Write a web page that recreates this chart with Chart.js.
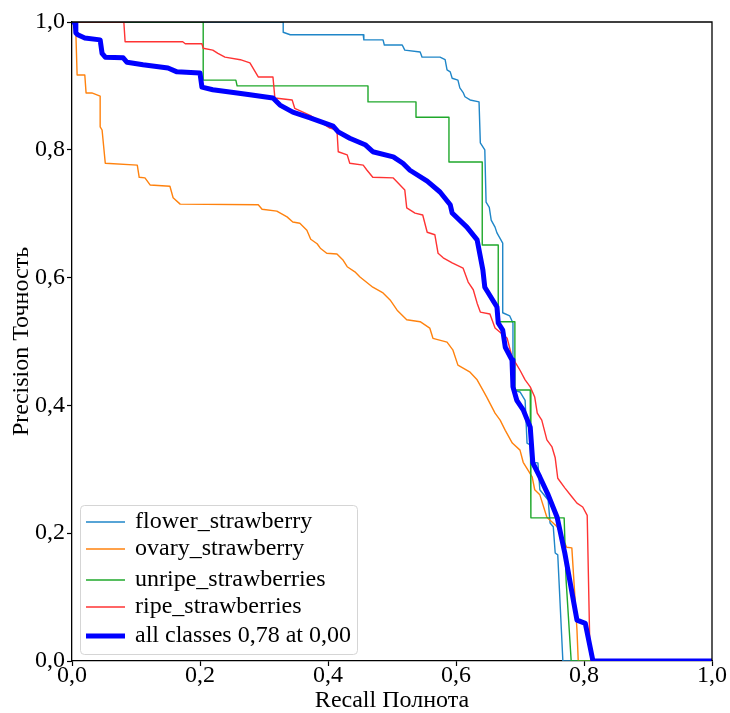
<!DOCTYPE html>
<html>
<head>
<meta charset="utf-8">
<script src="https://cdn.jsdelivr.net/npm/chart.js@4"></script>
<style>
body { margin: 0; background: #fff; }
#wrap { width: 730px; height: 713px; }
</style>
</head>
<body>
<div id="wrap"><canvas id="chart" width="730" height="713"></canvas></div>
<script>
const seriesLabels = ['flower_strawberry', 'ovary_strawberry', 'unripe_strawberries', 'ripe_strawberries', 'all classes 0,78 at 0,00'];
const seriesColors = ['#1f86c8', '#ff820e', '#1fa82b', '#ff3333', '#0000ff'];
const tickValues = [0, 0.2, 0.4, 0.6, 0.8, 1.0];

const flowerRecall = [0, 0.330, 0.330, 0.341, 0.455, 0.456, 0.486, 0.488, 0.516, 0.520, 0.544, 0.547, 0.575, 0.583, 0.586, 0.591, 0.594, 0.603, 0.606, 0.611, 0.614, 0.622, 0.636, 0.638, 0.645, 0.647, 0.652, 0.655, 0.661, 0.664, 0.673, 0.673, 0.684, 0.689, 0.689, 0.700, 0.708, 0.711, 0.716, 0.717, 0.728, 0.731, 0.744, 0.747, 0.752, 0.755, 0.759, 0.767, 1];
const flowerPrecision = [1, 1, 0.984, 0.980, 0.980, 0.972, 0.972, 0.964, 0.964, 0.956, 0.953, 0.945, 0.945, 0.941, 0.925, 0.922, 0.912, 0.909, 0.897, 0.890, 0.883, 0.878, 0.875, 0.811, 0.800, 0.718, 0.710, 0.690, 0.679, 0.670, 0.654, 0.545, 0.540, 0.529, 0.424, 0.421, 0.408, 0.341, 0.338, 0.311, 0.310, 0.268, 0.252, 0.216, 0.210, 0.169, 0.166, 0, 0];

const ovaryRecall = [0, 0.002, 0.006, 0.008, 0.020, 0.022, 0.031, 0.044, 0.044, 0.047, 0.052, 0.102, 0.105, 0.114, 0.122, 0.153, 0.158, 0.169, 0.291, 0.297, 0.320, 0.336, 0.345, 0.356, 0.367, 0.373, 0.383, 0.388, 0.398, 0.414, 0.423, 0.430, 0.442, 0.450, 0.470, 0.486, 0.497, 0.508, 0.523, 0.544, 0.559, 0.564, 0.586, 0.595, 0.603, 0.622, 0.633, 0.642, 0.648, 0.661, 0.669, 0.677, 0.688, 0.700, 0.705, 0.719, 0.723, 0.731, 0.742, 0.758, 0.773, 0.781, 0.789, 0.791, 1];
const ovaryPrecision = [1, 1, 0.984, 0.917, 0.917, 0.889, 0.889, 0.884, 0.836, 0.831, 0.779, 0.776, 0.757, 0.756, 0.745, 0.743, 0.725, 0.715, 0.714, 0.707, 0.704, 0.695, 0.687, 0.685, 0.674, 0.660, 0.653, 0.646, 0.638, 0.637, 0.628, 0.617, 0.609, 0.601, 0.585, 0.576, 0.565, 0.549, 0.534, 0.531, 0.521, 0.505, 0.499, 0.487, 0.463, 0.452, 0.440, 0.424, 0.413, 0.388, 0.377, 0.361, 0.341, 0.330, 0.311, 0.288, 0.268, 0.260, 0.225, 0.210, 0.178, 0.177, 0.049, 0, 0];

const unripeRecall = [0, 0.205, 0.205, 0.256, 0.258, 0.4625, 0.4625, 0.5375, 0.5375, 0.589, 0.589, 0.641, 0.641, 0.666, 0.666, 0.692, 0.692, 0.716, 0.717, 0.769, 0.772, 0.780, 1];
const unripePrecision = [1, 1, 0.909, 0.909, 0.900, 0.900, 0.875, 0.875, 0.851, 0.851, 0.781, 0.781, 0.651, 0.651, 0.531, 0.531, 0.424, 0.424, 0.224, 0.224, 0.127, 0, 0];

const ripeRecall = [0, 0.081, 0.083, 0.173, 0.177, 0.203, 0.205, 0.220, 0.228, 0.239, 0.263, 0.278, 0.291, 0.314, 0.317, 0.344, 0.348, 0.372, 0.403, 0.414, 0.416, 0.430, 0.434, 0.455, 0.461, 0.470, 0.502, 0.520, 0.523, 0.536, 0.548, 0.555, 0.567, 0.572, 0.580, 0.594, 0.611, 0.619, 0.627, 0.633, 0.638, 0.653, 0.661, 0.680, 0.6875, 0.700, 0.708, 0.716, 0.723, 0.727, 0.734, 0.742, 0.750, 0.755, 0.759, 0.770, 0.781, 0.789, 0.798, 0.805, 0.809, 0.811, 1];
const ripePrecision = [1, 1, 0.969, 0.969, 0.966, 0.966, 0.959, 0.956, 0.951, 0.945, 0.941, 0.936, 0.914, 0.914, 0.881, 0.878, 0.865, 0.854, 0.834, 0.831, 0.797, 0.792, 0.779, 0.776, 0.768, 0.757, 0.756, 0.737, 0.709, 0.701, 0.698, 0.671, 0.667, 0.638, 0.631, 0.623, 0.615, 0.593, 0.581, 0.560, 0.546, 0.543, 0.521, 0.505, 0.476, 0.455, 0.440, 0.429, 0.413, 0.388, 0.377, 0.346, 0.335, 0.318, 0.286, 0.271, 0.257, 0.247, 0.241, 0.228, 0.028, 0, 0];

const allRecall = [0, 0.005, 0.006, 0.009, 0.020, 0.044, 0.047, 0.052, 0.080, 0.086, 0.111, 0.150, 0.164, 0.200, 0.203, 0.220, 0.258, 0.278, 0.314, 0.325, 0.345, 0.372, 0.408, 0.416, 0.434, 0.458, 0.470, 0.502, 0.517, 0.528, 0.555, 0.575, 0.591, 0.594, 0.617, 0.633, 0.642, 0.645, 0.664, 0.666, 0.673, 0.677, 0.6875, 0.689, 0.695, 0.705, 0.716, 0.720, 0.731, 0.744, 0.758, 0.770, 0.789, 0.802, 0.814, 1];
const allPrecision = [1, 1, 0.983, 0.980, 0.975, 0.972, 0.951, 0.945, 0.944, 0.937, 0.933, 0.928, 0.922, 0.920, 0.898, 0.894, 0.889, 0.886, 0.881, 0.870, 0.859, 0.850, 0.837, 0.828, 0.818, 0.808, 0.797, 0.789, 0.779, 0.768, 0.751, 0.734, 0.714, 0.701, 0.679, 0.659, 0.612, 0.585, 0.554, 0.529, 0.518, 0.491, 0.471, 0.429, 0.408, 0.393, 0.366, 0.310, 0.288, 0.260, 0.225, 0.169, 0.064, 0.059, 0, 0];

const recallSets = [flowerRecall, ovaryRecall, unripeRecall, ripeRecall, allRecall];
const precisionSets = [flowerPrecision, ovaryPrecision, unripePrecision, ripePrecision, allPrecision];

function toPoints(xs, ys) {
	return xs.map((x, i) => ({x: x, y: ys[i]}));
}

function fmt(value) {
	return value.toFixed(1).replace('.', ',');
}

Chart.defaults.font.family = '"Liberation Serif", "Times New Roman", serif';
Chart.defaults.color = '#000';

// top and right spines
const frame = {
	id: 'frame',
	afterDatasetsDraw(chart) {
		const ctx = chart.ctx;
		const a = chart.chartArea;
		ctx.save();
		ctx.strokeStyle = '#000';
		ctx.lineWidth = 1.3;
		ctx.beginPath();
		ctx.moveTo(a.left, a.top);
		ctx.lineTo(a.right, a.top);
		ctx.lineTo(a.right, a.bottom);
		ctx.stroke();
		ctx.restore();
	}
};

// matplotlib style legend box in lower left
const boxLegend = {
	id: 'boxLegend',
	afterDatasetsDraw(chart) {
		const ctx = chart.ctx;
		const a = chart.chartArea;
		const left = a.left + 8, top = a.bottom - 156, w = 277, h = 149;
		const rows = [17, 44, 75, 102, 131];
		ctx.save();
		ctx.fillStyle = 'rgba(255,255,255,0.8)';
		ctx.strokeStyle = '#d5d5d5';
		ctx.lineWidth = 1;
		ctx.beginPath();
		ctx.roundRect(left + 0.5, top + 0.5, w, h, 4);
		ctx.fill();
		ctx.stroke();
		ctx.font = '24px "Liberation Serif", serif';
		ctx.textBaseline = 'middle';
		chart.data.datasets.forEach((ds, i) => {
			const y = top + rows[i];
			ctx.strokeStyle = ds.borderColor;
			ctx.lineWidth = ds.borderWidth;
			ctx.beginPath();
			ctx.moveTo(left + 6, y);
			ctx.lineTo(left + 45, y);
			ctx.stroke();
			ctx.fillStyle = '#000';
			ctx.fillText(ds.label, left + 55, y);
		});
		ctx.restore();
	}
};

const datasets = seriesLabels.map((label, i) => ({
	label: label,
	data: toPoints(recallSets[i], precisionSets[i]),
	borderColor: seriesColors[i],
	borderWidth: i === 4 ? 5 : 1.4,
	borderJoinStyle: 'round',
	pointRadius: 0,
	fill: false,
	order: 4 - i
}));

const axisCommon = {
	type: 'linear',
	min: 0,
	max: 1,
	grid: { drawOnChartArea: false, drawTicks: true, tickLength: 5, tickColor: '#000', tickWidth: 1.2 },
	border: { color: '#000', width: 1.3 },
	afterBuildTicks: scale => { scale.ticks = tickValues.map(v => ({value: v})); }
};

new Chart(document.getElementById('chart'), {
	type: 'line',
	data: { datasets: datasets },
	options: {
		responsive: false,
		animation: false,
		layout: { padding: { top: 22, right: 18, left: 0, bottom: 0 } },
		elements: { line: { tension: 0 } },
		plugins: { legend: { display: false }, tooltip: { enabled: false } },
		scales: {
			x: Object.assign({}, axisCommon, {
				afterFit: s => { s.height = 52; },
				ticks: { color: '#000', font: { size: 24, lineHeight: 1 }, padding: -2, maxRotation: 0, callback: fmt },
				title: { display: true, text: 'Recall Полнота', color: '#000', font: { size: 24, lineHeight: 1 }, padding: { top: 0, bottom: 0 } }
			}),
			y: Object.assign({}, axisCommon, {
				afterFit: s => { s.width = 72; },
				ticks: { color: '#000', font: { size: 24 }, padding: 2, callback: fmt },
				title: { display: true, text: 'Precision Точность', color: '#000', font: { size: 24, lineHeight: 1 }, padding: { top: 10, bottom: 0 } }
			})
		}
	},
	plugins: [frame, boxLegend]
});
</script>
</body>
</html>
